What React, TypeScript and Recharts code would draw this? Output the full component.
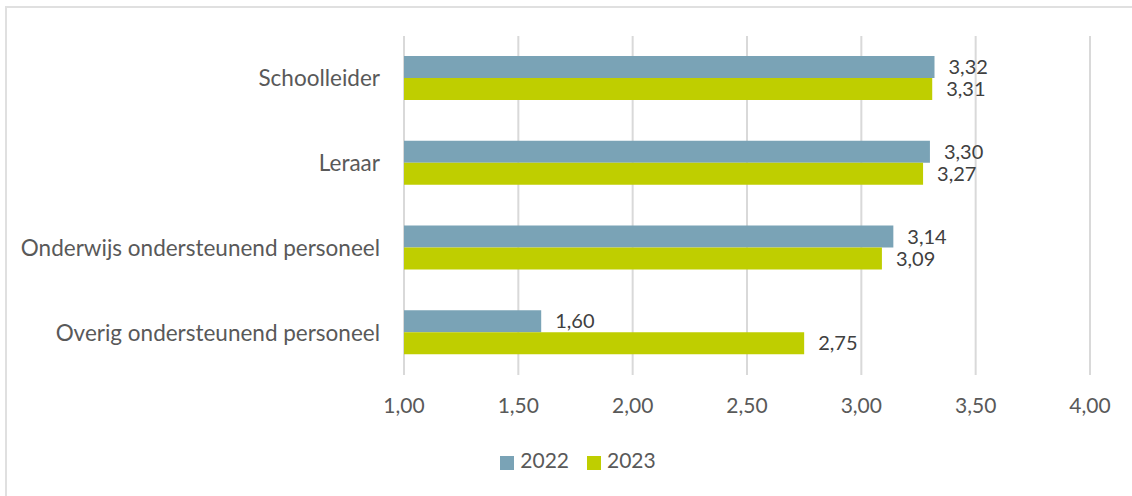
import React from 'react';
import { BarChart, Bar, XAxis, YAxis, CartesianGrid, Legend, LabelList } from 'recharts';

const categories = ['Schoolleider', 'Leraar', 'Onderwijs ondersteunend personeel', 'Overig ondersteunend personeel'];
const values2022 = [3.32, 3.30, 3.14, 1.60];
const values2023 = [3.31, 3.27, 3.09, 2.75];
const xTicks = [1, 1.5, 2, 2.5, 3, 3.5, 4];

const data = categories.map((name, i) => ({
  name,
  y2022: values2022[i],
  y2023: values2023[i],
}));

const fmt = (v: any) => Number(v).toFixed(2).replace('.', ',');

const FONT = 'Lato, "Noto Sans", sans-serif';

const App: React.FC = () => {
  return (
    <div style={{ position: 'fixed', left: 0, top: 0, width: 1132, height: 496, background: '#fff', overflow: 'hidden', fontFamily: FONT }}>
      <div
        style={{
          position: 'absolute',
          left: 5,
          top: 6,
          width: 1140,
          height: 500,
          border: '2px solid #e0e0e0',
          boxSizing: 'border-box',
        }}
      />
      <div style={{ position: 'absolute', left: 0, top: 0 }}>
        <BarChart
          width={1132}
          height={496}
          data={data}
          layout="vertical"
          margin={{ top: 36, right: 42, left: 0, bottom: 21 }}
          barGap={0}
          barSize={22}
        >
          <CartesianGrid horizontal={false} stroke="#d9d9d9" strokeWidth={2} />
          <XAxis
            type="number"
            domain={[1, 4]}
            ticks={xTicks}
            tickFormatter={fmt}
            axisLine={false}
            tickLine={false}
            tickMargin={17}
            height={60}
            tick={{ fill: '#595959', fontSize: 21, fontFamily: FONT }}
          />
          <YAxis
            type="category"
            dataKey="name"
            width={404}
            axisLine={false}
            tickLine={false}
            tickMargin={18}
            tick={{ fill: '#595959', fontSize: 22.5, fontFamily: FONT }}
          />
          <Legend
            verticalAlign="bottom"
            height={40}
            iconType="square"
            iconSize={14}
            wrapperStyle={{ top: 447, transform: 'translateX(42px)', fontSize: 21, fontFamily: FONT }}
            formatter={(value: any) => (
              <span style={{ color: '#595959', marginLeft: 2, marginRight: 8 }}>{value}</span>
            )}
          />
          <Bar dataKey="y2022" name="2022" fill="#7aa3b6" isAnimationActive={false}>
            <LabelList dataKey="y2022" position="right" offset={14} formatter={fmt} fill="#404040" fontSize={20} fontFamily={FONT} />
          </Bar>
          <Bar dataKey="y2023" name="2023" fill="#bfce00" isAnimationActive={false}>
            <LabelList dataKey="y2023" position="right" offset={14} formatter={fmt} fill="#404040" fontSize={20} fontFamily={FONT} />
          </Bar>
        </BarChart>
      </div>
    </div>
  );
};

export default App;
